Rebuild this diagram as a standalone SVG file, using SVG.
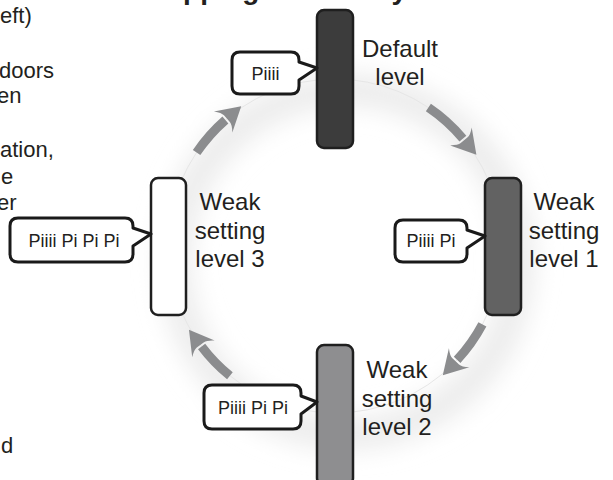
<svg xmlns="http://www.w3.org/2000/svg" width="613" height="480" viewBox="0 0 613 480">
<style>
  .lbl { font-family: "Liberation Sans", Arial, sans-serif; font-size: 24px; fill: #231f20; text-anchor: middle; }
  .side { font-family: "Liberation Sans", Arial, sans-serif; font-size: 22px; fill: #231f20; }
  .title { font-family: "Liberation Sans", Arial, sans-serif; font-size: 28px; font-weight: bold; fill: #231f20; }
  .btxt { font-family: "Liberation Sans", Arial, sans-serif; font-size: 18px; fill: #231f20; text-anchor: middle; }
  .bar { stroke: #1f1f1f; stroke-width: 2.5; }
  .bubble { fill: #ffffff; stroke: #1a1a1a; stroke-width: 3; stroke-linejoin: round; }
  .arrow { fill: none; stroke: #8b8c8e; stroke-width: 9; stroke-linecap: butt; marker-end: url(#head); }
</style>
<defs>
  <filter id="blur" x="-30%" y="-30%" width="160%" height="160%">
    <feGaussianBlur stdDeviation="12"/>
  </filter>
  <marker id="head" markerUnits="userSpaceOnUse" viewBox="-6 -16 30 32" markerWidth="30" markerHeight="32" refX="0" refY="0" orient="auto">
    <path d="M21,0 L-3,-14 Q2,-8 2,-4.5 L2,4.5 Q2,8 -3,14 Z" fill="#8b8c8e"/>
  </marker>
</defs>
<rect width="613" height="480" fill="#ffffff"/>

<!-- background glow ring -->
<g id="glow">
  <circle cx="347" cy="262" r="172" fill="none" stroke="#ececec" stroke-width="32" filter="url(#blur)"/>
  <circle cx="335" cy="246" r="167" fill="none" stroke="#e6e6e6" stroke-width="1"/>
</g>

<!-- cut-off page texts -->
<g id="page-text">
  <text class="title" x="138" y="-1">Stopping Sensitivity</text>
  <text class="side" x="0" y="23">eft)</text>
  <text class="side" x="-1" y="78">doors</text>
  <text class="side" x="-3" y="103">en</text>
  <text class="side" x="0" y="157">ation,</text>
  <text class="side" x="1" y="184">e</text>
  <text class="side" x="-3" y="210">er</text>
  <text class="side" x="1" y="453">d</text>
</g>

<!-- connectors -->
<g id="connectors">
  <path class="arrow" d="M428.4,107.6 A167,167 0 0 1 462.9,138.7"/>
  <path class="arrow" d="M482.4,324.4 A167,167 0 0 1 457.1,359.9"/>
  <path class="arrow" d="M229.9,375.8 A167,167 0 0 1 201.6,346.5"/>
  <path class="arrow" d="M196.6,152.6 A167,167 0 0 1 225.4,120.0"/>
</g>

<g id="default-level">
  <rect class="bar" x="317" y="10" width="36" height="138" rx="7" fill="#3c3c3c"/>
  <text class="lbl" x="400" y="57">Default</text>
  <text class="lbl" x="400" y="85">level</text>
  <path class="bubble" d="M240,52 H291 Q299,52 299,60 V62 L317,68 L299,80 V86 Q299,94 291,94 H240 Q232,94 232,86 V60 Q232,52 240,52 Z"/>
  <text class="btxt" x="265.5" y="80">Piiii</text>
</g>

<g id="weak-level-1">
  <rect class="bar" x="485" y="178" width="36" height="137" rx="7" fill="#626262"/>
  <text class="lbl" x="564" y="210">Weak</text>
  <text class="lbl" x="564" y="239">setting</text>
  <text class="lbl" x="564" y="267">level 1</text>
  <path class="bubble" d="M403,220 H459 Q467,220 467,228 V230 L485,236 L467,248 V254 Q467,262 459,262 H403 Q395,262 395,254 V228 Q395,220 403,220 Z"/>
  <text class="btxt" x="431" y="247">Piiii Pi</text>
</g>

<g id="weak-level-2">
  <rect class="bar" x="317" y="345" width="36" height="140" rx="7" fill="#8e8e90"/>
  <text class="lbl" x="397" y="378">Weak</text>
  <text class="lbl" x="397" y="407">setting</text>
  <text class="lbl" x="397" y="435">level 2</text>
  <path class="bubble" d="M212,385 H293 Q301,385 301,393 V396 L317,402 L301,414 V421 Q301,429 293,429 H212 Q204,429 204,421 V393 Q204,385 212,385 Z"/>
  <text class="btxt" x="253" y="414">Piiii Pi Pi</text>
</g>

<g id="weak-level-3">
  <rect class="bar" x="151" y="178" width="35" height="137" rx="7" fill="#ffffff"/>
  <text class="lbl" x="230" y="210">Weak</text>
  <text class="lbl" x="230" y="239">setting</text>
  <text class="lbl" x="230" y="267">level 3</text>
  <path class="bubble" d="M18,218 H125 Q133,218 133,226 V228 L151,234 L133,246 V254 Q133,262 125,262 H18 Q10,262 10,254 V226 Q10,218 18,218 Z"/>
  <text class="btxt" x="74" y="247">Piiii Pi Pi Pi</text>
</g>
</svg>
